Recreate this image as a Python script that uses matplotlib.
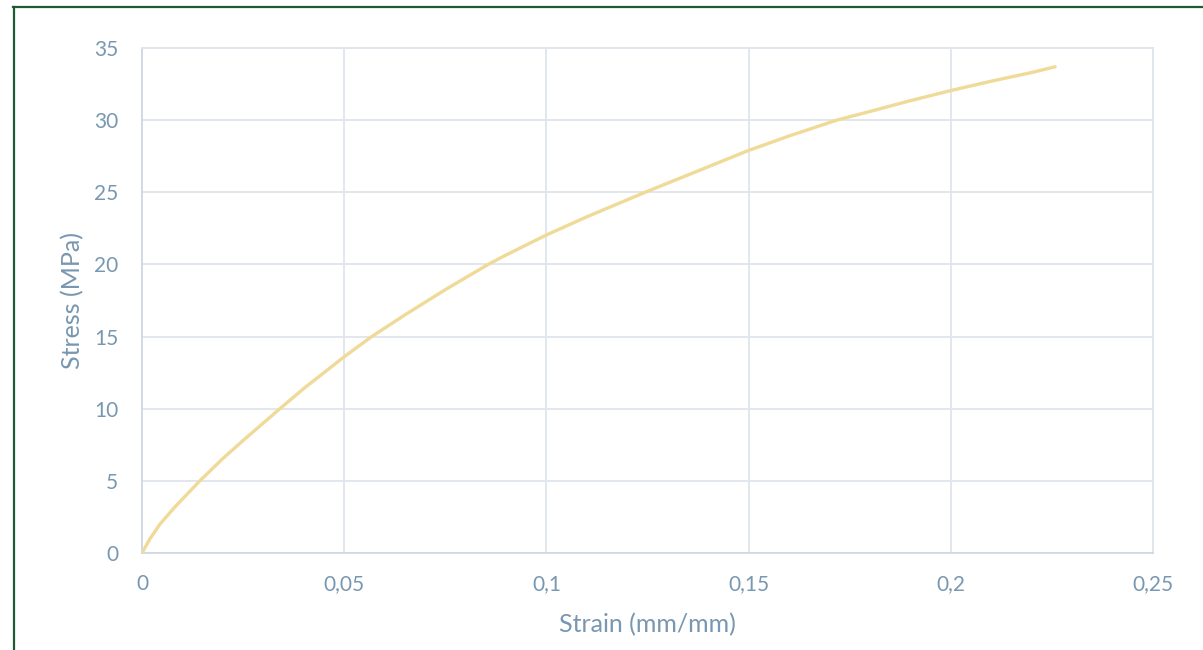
import matplotlib
matplotlib.use("Agg")
import matplotlib.pyplot as plt
from matplotlib.lines import Line2D
import numpy as np

strain = [0.0, 0.002, 0.00445, 0.008, 0.0143, 0.02, 0.025, 0.0341, 0.04, 0.045, 0.05, 0.0568,
          0.065, 0.075, 0.0856, 0.09, 0.1, 0.11, 0.1244, 0.135, 0.15, 0.16, 0.1718, 0.18, 0.19,
          0.2, 0.21, 0.22, 0.2258]
stress = [0.0, 1.0, 2.0, 3.15, 5.0, 6.55, 7.8, 10.0, 11.4, 12.5, 13.6, 15.0,
          16.5, 18.25, 20.0, 20.65, 22.04, 23.3, 25.0, 26.2, 27.9, 28.9, 30.0, 30.6, 31.35,
          32.05, 32.7, 33.3, 33.7]

x_ticks = [0, 0.05, 0.1, 0.15, 0.2, 0.25]
x_labels = ["0", "0,05", "0,1", "0,15", "0,2", "0,25"]
y_ticks = [0, 5, 10, 15, 20, 25, 30, 35]
y_labels = ["0", "5", "10", "15", "20", "25", "30", "35"]

W, H = 1203, 650
fig = plt.figure(figsize=(W / 100, H / 100), dpi=100)
fig.patch.set_facecolor("white")
ax = fig.add_axes([142 / W, 1 - 553 / H, (1153 - 142) / W, (553 - 48) / H])

ax.plot(strain, stress, color="#efda98", lw=2.4, solid_capstyle="round",
        solid_joinstyle="round", zorder=3)

ax.set_xlim(0, 0.25)
ax.set_ylim(0, 35)
ax.set_xticks(x_ticks)
ax.set_xticklabels(x_labels)
ax.set_yticks(y_ticks)
ax.set_yticklabels(y_labels)

grid_c = "#dfe5ec"
ax.grid(True, color=grid_c, lw=1.3, zorder=0)
for s in ["top", "right"]:
    ax.spines[s].set_color(grid_c)
    ax.spines[s].set_linewidth(1.3)
for s in ["left", "bottom"]:
    ax.spines[s].set_color("#cfd8e2")
    ax.spines[s].set_linewidth(1.3)

txt_c = "#7897b0"
fam = ["Lato", "DejaVu Sans"]
ax.tick_params(axis="both", length=0, colors=txt_c, labelsize=15)
ax.tick_params(axis="x", pad=15)
ax.tick_params(axis="y", pad=17)
for lab in ax.get_xticklabels() + ax.get_yticklabels():
    lab.set_fontfamily(fam)

ax.set_xlabel("Strain (mm/mm)", color=txt_c, fontsize=18, family=fam, va="center")
ax.set_ylabel("Stress (MPa)", color=txt_c, fontsize=18, family=fam, va="center")
ax.xaxis.set_label_coords((647.5 - 142) / 1011, (553 - 625) / 505)
ax.yaxis.set_label_coords((73 - 142) / 1011, 0.5)

# figure border (green) on left and top
green = "#1d5c32"
fig.add_artist(Line2D([13.5 / W, 13.5 / W], [0, 1 - 7 / H], transform=fig.transFigure, color=green, lw=1.6))
fig.add_artist(Line2D([13 / W, 1], [1 - 7 / H, 1 - 7 / H], transform=fig.transFigure, color=green, lw=1.6))

fig.savefig("out.png", dpi=100, facecolor="white")
